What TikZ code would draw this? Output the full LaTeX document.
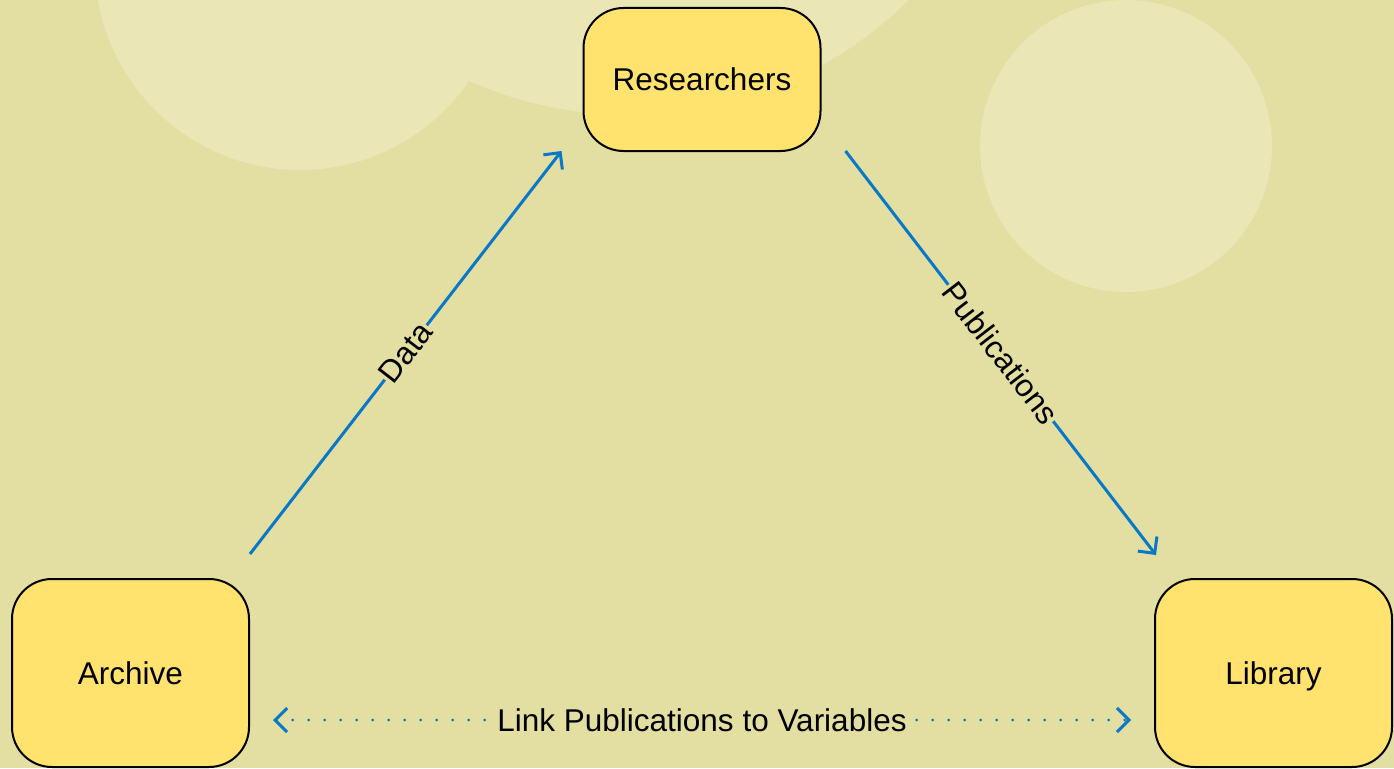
\documentclass[tikz,border=0pt]{standalone}
\usepackage{fontspec}
\setmainfont{Liberation Sans}
\usepackage{tikz}
\usetikzlibrary{positioning}
\usetikzlibrary{calc}
\usetikzlibrary{arrows.meta}
\definecolor{bgcol}{RGB}{227,222,161}
\definecolor{blobcol}{RGB}{234,230,182}
\definecolor{boxcol}{RGB}{255,227,110}
\definecolor{flowcol}{RGB}{8,120,200}
\tikzset{>={Straight Barb[length=12pt,width=24pt]}}
\tikzset{
  actor/.style={draw=black, line width=2pt, fill=boxcol, rounded corners=40pt,
    minimum width=237pt, text depth=0pt, text=black},
  flow/.style={->, flowcol, line width=3pt},
  flowlabel/.style={midway, sloped, fill=bgcol, inner sep=1pt, text=black},
}

\begin{document}
\begin{tikzpicture}[x=1pt, y=-1pt, font=\fontsize{31.5}{38}\selectfont]

% Background
\useasboundingbox (0,0) rectangle (1394,768);
\clip (0,0) rectangle (1394,768);
\fill[bgcol] (0,0) rectangle (1394,768);
\fill[blobcol] (630,-280) circle[radius=395pt];
\fill[blobcol] (300,-35) circle[radius=205pt];
\fill[blobcol] (1126,146) circle[radius=146pt];

% Nodes
\node[actor, minimum height=143pt] (res) at (702,79.5) {Researchers};
\node[actor, minimum height=188pt] (arch) at (130.5,673) {Archive};
\node[actor, minimum height=188pt, right=904pt of arch] (lib) {Library};

% Flows
\draw[flow] ([shift={(0,-24)}]arch.north east) -- ([shift={(-21,-1)}]res.south west)
  node[flowlabel] {Data};
\draw[flow] ([shift={(24,-1)}]res.south east) -- ([shift={(2,-23)}]lib.north west)
  node[flowlabel] {Publications};

% Link
\draw[flow, <->, dash pattern=on 0pt off 16pt, line cap=round]
  ([shift={(23,47)}]arch.east) -- ([shift={(-23,47)}]lib.west)
  node[midway, fill=bgcol, inner sep=3pt, text=black] {Link Publications to Variables};
\end{tikzpicture}
\end{document}
